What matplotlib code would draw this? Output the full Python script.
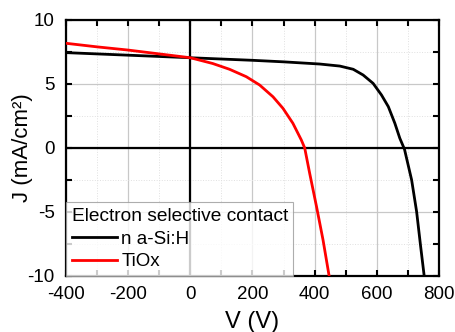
import matplotlib
matplotlib.use("Agg")
import matplotlib.pyplot as plt
from matplotlib.ticker import MultipleLocator

plt.rcParams['font.family'] = ['Liberation Sans', 'DejaVu Sans']
plt.rcParams['axes.unicode_minus'] = False

v_asi = [-400, -300, -200, -100, 0, 100, 200, 300, 416, 481, 524, 556, 588, 615, 637, 658, 674, 689, 712, 728, 741, 752, 756]
j_asi = [7.45, 7.35, 7.25, 7.15, 7.05, 6.95, 6.85, 6.73, 6.56, 6.4, 6.15, 5.7, 5.05, 4.14, 3.23, 1.93, 0.76, -0.1, -2.5, -4.97, -7.7, -9.92, -10.5]

v_tiox = [-400, -300, -200, -100, 0, 72, 126, 180, 223, 266, 298, 330, 357, 368, 384, 406, 427, 446, 450]
j_tiox = [8.18, 7.9, 7.65, 7.35, 7.05, 6.6, 6.15, 5.57, 4.92, 4.0, 3.1, 1.93, 0.63, 0.0, -1.98, -4.58, -7.19, -9.92, -10.4]

x_label = "V (V)"
y_label = "J (mA/cm²)"
legend_title = "Electron selective contact"
labels = ["n a-Si:H", "TiOx"]

fig = plt.figure(figsize=(4.56, 3.32), dpi=100)
ax = fig.add_axes([0.1447, 0.1687, 0.9627 - 0.1447, 0.9398 - 0.1687])

ax.set_xlim(-400, 800)
ax.set_ylim(-10, 10)
ax.xaxis.set_major_locator(MultipleLocator(200))
ax.xaxis.set_minor_locator(MultipleLocator(100))
ax.yaxis.set_major_locator(MultipleLocator(5))
ax.yaxis.set_minor_locator(MultipleLocator(2.5))

ax.grid(True, which='major', color='#c8c8c8', linewidth=0.9, linestyle='-')
ax.grid(True, which='minor', color='#e0e0e0', linewidth=0.7, linestyle=':')
ax.set_axisbelow(True)

ax.axhline(0, color='black', linewidth=1.6, zorder=2)
ax.axvline(0, color='black', linewidth=1.6, zorder=2)

ax.plot(v_asi, j_asi, color='black', linewidth=2.0, label=labels[0], zorder=3)
ax.plot(v_tiox, j_tiox, color='#ff0000', linewidth=2.0, label=labels[1], zorder=3)

for s in ax.spines.values():
    s.set_linewidth(1.6)

ax.tick_params(which='both', direction='in', top=True, right=True, width=1.5, labelsize=13.5)
ax.tick_params(which='major', length=4)
ax.tick_params(which='minor', length=4)
ax.tick_params(axis='x', pad=7)
ax.tick_params(axis='y', pad=8)

ax.set_xlabel(x_label, fontsize=17, labelpad=6)
ax.set_ylabel(y_label, fontsize=16, labelpad=-4)

leg = ax.legend(title=legend_title, loc='lower left', fontsize=13.5, title_fontsize=13.8,
                frameon=True, fancybox=False, borderaxespad=0.0, handlelength=2.4,
                handletextpad=0.25, labelspacing=0.3, borderpad=0.3)
leg.get_frame().set_edgecolor('#999999')
leg.get_frame().set_linewidth(0.8)
leg._legend_box.align = "left"
leg.set_zorder(5)

fig.savefig("out.png", dpi=100)
